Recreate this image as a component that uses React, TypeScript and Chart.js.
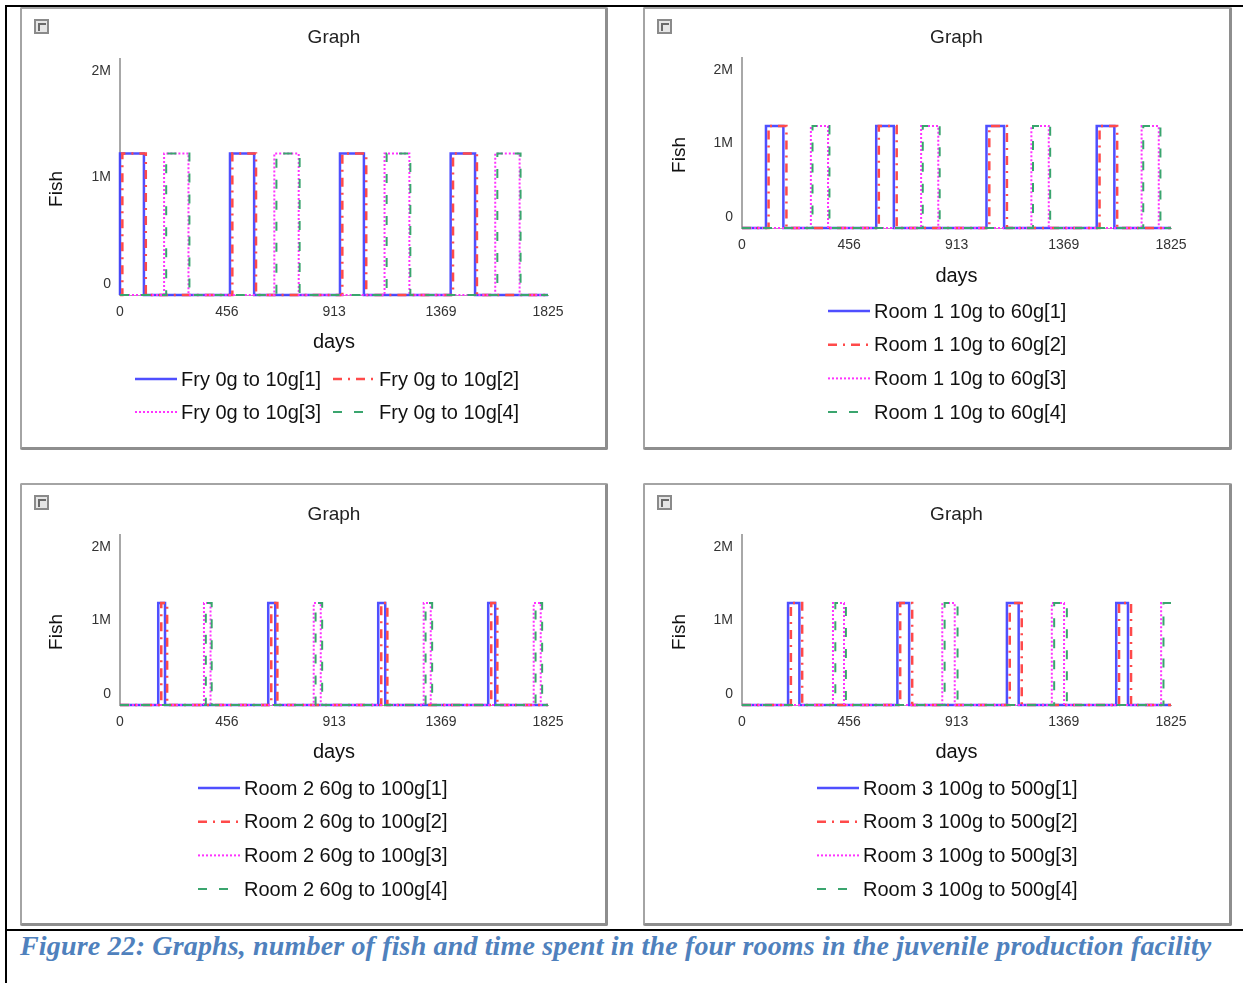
import React, { useEffect, useRef } from 'react';
import { Chart, registerables } from 'chart.js';

Chart.register(...registerables);

// ---------- shared axis data ----------
const xTickValues = [0, 456, 913, 1369, 1825];
const yTickValues = [0, 1000000, 2000000];
const yTickLabels = ['0', '1M', '2M'];
const xMax = 1825;
const yMax = 2000000;

// ---------- Panel 1: Fry 0g to 10g ----------
const fryLabels = ['Fry 0g to 10g[1]', 'Fry 0g to 10g[2]', 'Fry 0g to 10g[3]', 'Fry 0g to 10g[4]'];
const fry1Days = [0, 0, 102, 469, 572, 938, 1040, 1410, 1514, 1825];
const fry1Fish = [0, 1200000, 0, 1200000, 0, 1200000, 0, 1200000, 0, 0];
const fry2Days = [0, 10, 110, 479, 580, 948, 1050, 1420, 1522, 1825];
const fry2Fish = [0, 1200000, 0, 1200000, 0, 1200000, 0, 1200000, 0, 0];
const fry3Days = [0, 188, 292, 658, 762, 1128, 1234, 1600, 1704, 1825];
const fry3Fish = [0, 1200000, 0, 1200000, 0, 1200000, 0, 1200000, 0, 0];
const fry4Days = [0, 197, 296, 667, 766, 1137, 1238, 1609, 1708, 1825];
const fry4Fish = [0, 1200000, 0, 1200000, 0, 1200000, 0, 1200000, 0, 0];

// ---------- Panel 2: Room 1 10g to 60g ----------
const room1Labels = ['Room 1 10g to 60g[1]', 'Room 1 10g to 60g[2]', 'Room 1 10g to 60g[3]', 'Room 1 10g to 60g[4]'];
const room1s1Days = [0, 102, 176, 571, 646, 1040, 1115, 1509, 1584, 1825];
const room1s1Fish = [0, 1200000, 0, 1200000, 0, 1200000, 0, 1200000, 0, 0];
const room1s2Days = [0, 113, 189, 582, 658, 1052, 1127, 1521, 1596, 1825];
const room1s2Fish = [0, 1200000, 0, 1200000, 0, 1200000, 0, 1200000, 0, 0];
const room1s3Days = [0, 293, 366, 762, 835, 1231, 1305, 1700, 1773, 1825];
const room1s3Fish = [0, 1200000, 0, 1200000, 0, 1200000, 0, 1200000, 0, 0];
const room1s4Days = [0, 300, 372, 769, 841, 1238, 1311, 1707, 1780, 1825];
const room1s4Fish = [0, 1200000, 0, 1200000, 0, 1200000, 0, 1200000, 0, 0];

// ---------- Panel 3: Room 2 60g to 100g ----------
const room2Labels = ['Room 2 60g to 100g[1]', 'Room 2 60g to 100g[2]', 'Room 2 60g to 100g[3]', 'Room 2 60g to 100g[4]'];
const room2s1Days = [0, 163, 192, 632, 662, 1101, 1131, 1570, 1600, 1825];
const room2s1Fish = [0, 1200000, 0, 1200000, 0, 1200000, 0, 1200000, 0, 0];
const room2s2Days = [0, 176, 201, 645, 671, 1114, 1140, 1583, 1609, 1825];
const room2s2Fish = [0, 1200000, 0, 1200000, 0, 1200000, 0, 1200000, 0, 0];
const room2s3Days = [0, 358, 386, 826, 856, 1295, 1325, 1764, 1794, 1825];
const room2s3Fish = [0, 1200000, 0, 1200000, 0, 1200000, 0, 1200000, 0, 0];
const room2s4Days = [0, 366, 391, 834, 862, 1303, 1331, 1772, 1800, 1825];
const room2s4Fish = [0, 1200000, 0, 1200000, 0, 1200000, 0, 1200000, 0, 0];

// ---------- Panel 4: Room 3 100g to 500g ----------
const room3Labels = ['Room 3 100g to 500g[1]', 'Room 3 100g to 500g[2]', 'Room 3 100g to 500g[3]', 'Room 3 100g to 500g[4]'];
const room3s1Days = [0, 196, 244, 661, 711, 1127, 1177, 1592, 1642, 1825];
const room3s1Fish = [0, 1200000, 0, 1200000, 0, 1200000, 0, 1200000, 0, 0];
const room3s2Days = [0, 208, 256, 673, 724, 1139, 1190, 1604, 1655, 1825];
const room3s2Fish = [0, 1200000, 0, 1200000, 0, 1200000, 0, 1200000, 0, 0];
const room3s3Days = [0, 387, 434, 852, 905, 1318, 1370, 1783, 1825];
const room3s3Fish = [0, 1200000, 0, 1200000, 0, 1200000, 0, 1200000, 1200000];
const room3s4Days = [0, 397, 442, 862, 917, 1328, 1382, 1793, 1825];
const room3s4Fish = [0, 1200000, 0, 1200000, 0, 1200000, 0, 1200000, 1200000];

const captionText =
  'Figure 22: Graphs, number of fish and time spent in the four rooms in the juvenile production facility';

// ---------- styles of the four series ----------
const seriesStyles = [
  { color: 'rgba(60,60,255,0.9)', width: 2.5, dash: [] as number[] },
  { color: '#ff4a4a', width: 2.5, dash: [9, 6, 2, 6] },
  { color: '#ff33ff', width: 2, dash: [2, 2] },
  { color: '#3aa56e', width: 2, dash: [9, 12] },
];

const FONT = '"Liberation Sans", Arial, sans-serif';

type PanelCfg = {
  left: number;
  top: number;
  width: number;
  height: number;
  yWidth: number;
  padRight: number;
  titlePadTop: number;
  titlePadBottom: number;
  xHeight: number;
  daysPad: number;
  legendX: number;
  legendY: number;
  cols: number;
  colGap: number;
  rowGap: number;
  labels: string[];
  series: [number[], number[]][];
};

const panels: PanelCfg[] = [
  {
    left: 20, top: 7, width: 588, height: 443,
    yWidth: 98, padRight: 57, titlePadTop: 17.6, titlePadBottom: 9.6,
    xHeight: 152, daysPad: 93,
    legendX: 113, legendY: 370, cols: 2, colGap: 198, rowGap: 33,
    labels: fryLabels,
    series: [[fry1Days, fry1Fish], [fry2Days, fry2Fish], [fry3Days, fry3Fish], [fry4Days, fry4Fish]],
  },
  {
    left: 643, top: 7, width: 589, height: 443,
    yWidth: 97, padRight: 58, titlePadTop: 17.6, titlePadBottom: 8.6,
    xHeight: 219, daysPad: 159,
    legendX: 183, legendY: 302, cols: 1, colGap: 0, rowGap: 33.7,
    labels: room1Labels,
    series: [[room1s1Days, room1s1Fish], [room1s2Days, room1s2Fish], [room1s3Days, room1s3Fish], [room1s4Days, room1s4Fish]],
  },
  {
    left: 20, top: 483, width: 588, height: 443,
    yWidth: 98, padRight: 57, titlePadTop: 18.6, titlePadBottom: 8.6,
    xHeight: 218, daysPad: 159,
    legendX: 176, legendY: 303, cols: 1, colGap: 0, rowGap: 33.7,
    labels: room2Labels,
    series: [[room2s1Days, room2s1Fish], [room2s2Days, room2s2Fish], [room2s3Days, room2s3Fish], [room2s4Days, room2s4Fish]],
  },
  {
    left: 643, top: 483, width: 589, height: 443,
    yWidth: 97, padRight: 58, titlePadTop: 18.6, titlePadBottom: 8.6,
    xHeight: 218, daysPad: 159,
    legendX: 172, legendY: 303, cols: 1, colGap: 0, rowGap: 33.7,
    labels: room3Labels,
    series: [[room3s1Days, room3s1Fish], [room3s2Days, room3s2Fish], [room3s3Days, room3s3Fish], [room3s4Days, room3s4Fish]],
  },
];

const decorPlugin = {
  id: 'decor',
  afterDraw(chart: any, _args: any, opts: any) {
    const ctx = chart.ctx as CanvasRenderingContext2D;
    const area = chart.chartArea;
    const ys = chart.scales.y;
    ctx.save();
    // y tick labels (kept inside the axis span like the original)
    ctx.font = '14px ' + FONT;
    ctx.fillStyle = '#333';
    ctx.textAlign = 'right';
    ctx.textBaseline = 'middle';
    yTickValues.forEach((v, i) => {
      let py = ys.getPixelForValue(v);
      if (py <= area.top + 1) py = area.top + 12;
      else if (py >= area.bottom - 1) py = area.bottom - 11;
      ctx.fillText(yTickLabels[i], area.left - 9, py);
    });
    // y axis title
    ctx.save();
    ctx.font = '19px ' + FONT;
    ctx.fillStyle = '#111';
    ctx.textAlign = 'center';
    ctx.translate(35, (area.top + area.bottom) / 2 + 12);
    ctx.rotate(-Math.PI / 2);
    ctx.fillText('Fish', 0, 0);
    ctx.restore();
    // legend
    ctx.font = '20px ' + FONT;
    ctx.textAlign = 'left';
    ctx.textBaseline = 'middle';
    chart.data.datasets.forEach((ds: any, i: number) => {
      const col = i % opts.cols;
      const row = Math.floor(i / opts.cols);
      const lx = opts.legendX + col * opts.colGap;
      const ly = opts.legendY + row * opts.rowGap;
      ctx.save();
      ctx.strokeStyle = ds.borderColor;
      ctx.lineWidth = ds.borderWidth;
      ctx.setLineDash(ds.borderDash || []);
      ctx.beginPath();
      ctx.moveTo(lx, ly);
      ctx.lineTo(lx + 42, ly);
      ctx.stroke();
      ctx.restore();
      ctx.fillStyle = '#111';
      ctx.fillText(ds.label, lx + 46, ly + 1);
    });
    ctx.restore();
  },
};

function Icon() {
  return (
    <div
      style={{
        position: 'absolute', left: 12, top: 10, width: 15, height: 15, boxSizing: 'border-box',
        border: '2px solid #8a8a8a', background: '#e6e6e6', zIndex: 2,
      }}
    >
      <div
        style={{
          position: 'absolute', left: 2, top: 2, width: 6, height: 6,
          borderLeft: '2px solid #6a6a6a', borderTop: '2px solid #6a6a6a',
        }}
      />
    </div>
  );
}

function Panel({ cfg }: { cfg: PanelCfg }) {
  const ref = useRef<HTMLCanvasElement>(null);
  const innerW = cfg.width - 5;
  const innerH = cfg.height - 5;
  useEffect(() => {
    if (!ref.current) return;
    const datasets = cfg.series.map(([days, fish], i) => ({
      label: cfg.labels[i],
      data: days.map((d, j) => ({ x: d, y: fish[j] })),
      borderColor: seriesStyles[i].color,
      borderWidth: seriesStyles[i].width,
      borderDash: seriesStyles[i].dash,
      pointRadius: 0,
      fill: false,
      stepped: 'before' as const,
      tension: 0,
      clip: false as const,
      order: 3 - i,
    }));
    const chart = new Chart(ref.current, {
      type: 'line',
      data: { datasets },
      plugins: [decorPlugin],
      options: {
        animation: false,
        responsive: false,
        maintainAspectRatio: false,
        devicePixelRatio: 1,
        events: [],
        layout: { padding: { left: 0, right: cfg.padRight, top: 0, bottom: 0 } },
        plugins: {
          legend: { display: false },
          tooltip: { enabled: false },
          title: {
            display: true,
            fullSize: false,
            text: 'Graph',
            color: '#222',
            font: { family: FONT, size: 19, weight: 'normal' },
            padding: { top: cfg.titlePadTop, bottom: cfg.titlePadBottom },
          },
          decor: {
            legendX: cfg.legendX, legendY: cfg.legendY, cols: cfg.cols,
            colGap: cfg.colGap, rowGap: cfg.rowGap,
          },
        } as any,
        scales: {
          x: {
            type: 'linear',
            min: 0,
            max: xMax,
            grid: { display: false, drawTicks: false },
            border: { display: true, color: '#a8a8a8', width: 1 },
            ticks: {
              padding: 9,
              color: '#333',
              font: { family: FONT, size: 14 },
              maxRotation: 0,
              autoSkip: false,
              callback: (v: any) => String(v),
            },
            afterBuildTicks: (s: any) => {
              s.ticks = xTickValues.map((v) => ({ value: v }));
            },
            afterFit: (s: any) => {
              s.height = cfg.xHeight;
            },
            title: {
              display: true,
              text: 'days',
              color: '#111',
              font: { family: FONT, size: 20 },
              padding: { top: 0, bottom: cfg.daysPad },
            },
          },
          y: {
            type: 'linear',
            min: 0,
            max: yMax,
            grid: { display: false, drawTicks: false },
            border: { display: true, color: '#a8a8a8', width: 2 },
            ticks: { display: false },
            afterFit: (s: any) => {
              s.width = cfg.yWidth;
            },
          },
        },
      } as any,
    });
    return () => chart.destroy();
  }, []);
  return (
    <div
      style={{
        position: 'absolute', left: cfg.left, top: cfg.top, width: cfg.width, height: cfg.height,
        boxSizing: 'border-box', background: '#fff',
        borderLeft: '2px solid #a4a4a4', borderTop: '2px solid #a4a4a4',
        borderRight: '3px solid #8e8e8e', borderBottom: '3px solid #8e8e8e',
        borderRadius: 2,
      }}
    >
      <canvas
        ref={ref}
        width={innerW}
        height={innerH}
        style={{ position: 'absolute', left: 0, top: 0, width: innerW, height: innerH }}
      />
      <Icon />
    </div>
  );
}

export default function App() {
  return (
    <div
      style={{
        position: 'absolute', left: 0, top: 0, width: 1243, height: 983,
        background: '#fff', overflow: 'hidden',
      }}
    >
      <div style={{ position: 'absolute', left: 5, top: 5, width: 1238, height: 2, background: '#000' }} />
      <div style={{ position: 'absolute', left: 5, top: 5, width: 2, height: 978, background: '#000' }} />
      <div style={{ position: 'absolute', left: 5, top: 929, width: 1238, height: 2, background: '#000' }} />
      {panels.map((p, i) => (
        <Panel key={i} cfg={p} />
      ))}
      <div
        style={{
          position: 'absolute', left: 20, top: 930, whiteSpace: 'nowrap',
          fontFamily: '"Liberation Serif", "Times New Roman", serif', fontStyle: 'italic',
          fontWeight: 'bold', fontSize: 28, lineHeight: '32px', letterSpacing: '0.15px', color: '#4f81bd',
        }}
      >
        {captionText}
      </div>
    </div>
  );
}
